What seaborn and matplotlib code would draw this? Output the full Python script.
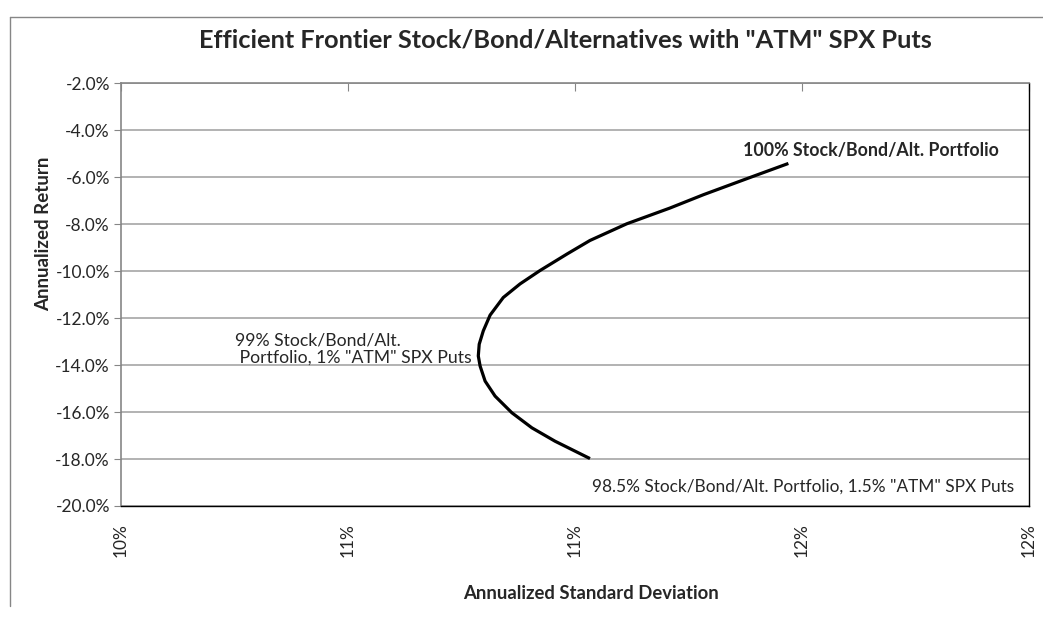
import matplotlib
matplotlib.use("Agg")
import pandas as pd
import seaborn as sns
import matplotlib.pyplot as plt
from matplotlib.lines import Line2D

# curve (percent)
std_dev = [11.470, 11.388, 11.283, 11.209, 11.114, 11.033, 10.983, 10.923,
           10.879, 10.842, 10.813, 10.798, 10.789, 10.787, 10.791, 10.802,
           10.824, 10.861, 10.905, 10.956, 11.033]
ann_return = [-5.41, -5.99, -6.74, -7.31, -7.98, -8.69, -9.26, -9.97,
              -10.54, -11.12, -11.87, -12.54, -13.11, -13.61, -14.04, -14.68,
              -15.32, -16.03, -16.67, -17.24, -17.98]

x_ticks = [10, 10.5, 11, 11.5, 12]
x_tick_labels = ['10%', '11%', '11%', '12%', '12%']
y_ticks = [-2, -4, -6, -8, -10, -12, -14, -16, -18, -20]

label_top = '100% Stock/Bond/Alt. Portfolio'
label_mid = '99% Stock/Bond/Alt.\n Portfolio, 1% "ATM" SPX Puts'
label_bot = '98.5% Stock/Bond/Alt. Portfolio, 1.5% "ATM" SPX Puts'

df = pd.DataFrame({'sd': std_dev, 'ret': ann_return})

sns.set_style('white')
plt.rcParams['font.family'] = ['Lato', 'DejaVu Sans']

fig = plt.figure(figsize=(10.43, 6.21), dpi=100)
ax = fig.add_axes([121/1043, 1-506/621, 908/1043, (506-83.4)/621])

sns.lineplot(data=df, x='sd', y='ret', sort=False, estimator=None,
             color='black', linewidth=2.3, ax=ax,
             solid_joinstyle='round', solid_capstyle='butt')

ax.set_xlim(10, 12)
ax.set_ylim(-20, -2)
ax.set_xticks(x_ticks)
ax.set_xticklabels(x_tick_labels, rotation=90, fontsize=12.5)
ax.set_yticks(y_ticks)
ax.set_yticklabels([f'{v:.1f}%' for v in y_ticks], fontsize=12.5)
ax.yaxis.grid(True, color='#a6a6a6', linewidth=1.2)

ax.tick_params(axis='x', bottom=False, top=True, direction='in', length=6,
               color='#868686', labelbottom=True, pad=12)
ax.tick_params(axis='y', left=True, direction='out', length=5,
               color='#868686', pad=3)
for side in ['left', 'top']:
    ax.spines[side].set_color('#868686')
    ax.spines[side].set_linewidth(1.2)
for side in ['right', 'bottom']:
    ax.spines[side].set_color('black')
    ax.spines[side].set_linewidth(1.0)

ax.set_xlabel('Annualized Standard Deviation', fontsize=13.3, fontweight='bold')
ax.set_ylabel('Annualized Return', fontsize=13.5, fontweight='bold')
ax.xaxis.set_label_coords((591-121)/908, (506-585)/422.6)
ax.yaxis.set_label_coords((52-121)/908, (506-234)/422.6)

fig.text(565/1043, 1-40/621, 'Efficient Frontier Stock/Bond/Alternatives with "ATM" SPX Puts',
         ha='center', va='center', fontsize=18.3, fontweight='bold')

ax.annotate(label_top, xy=(std_dev[0], ann_return[0]), xytext=(-45, 13),
            textcoords='offset pixels', ha='left', va='center',
            fontsize=12.8, fontweight='bold')
ax.annotate(label_mid, xy=(std_dev[13], ann_return[13]), xytext=(-243, 7),
            textcoords='offset pixels', ha='left', va='center',
            fontsize=12.7, linespacing=1.1)
ax.annotate(label_bot, xy=(std_dev[-1], ann_return[-1]), xytext=(2, -28),
            textcoords='offset pixels', ha='left', va='center', fontsize=12.4)

# outer chart-area border (partly cut off in the original)
fig.add_artist(Line2D([10/1043, 10/1043], [1-17/621, 1-606/621],
                      transform=fig.transFigure, color='#868686', linewidth=1))
fig.add_artist(Line2D([10/1043, 1], [1-17/621, 1-17/621],
                      transform=fig.transFigure, color='#868686', linewidth=1))

fig.savefig('out.png', dpi=100)
